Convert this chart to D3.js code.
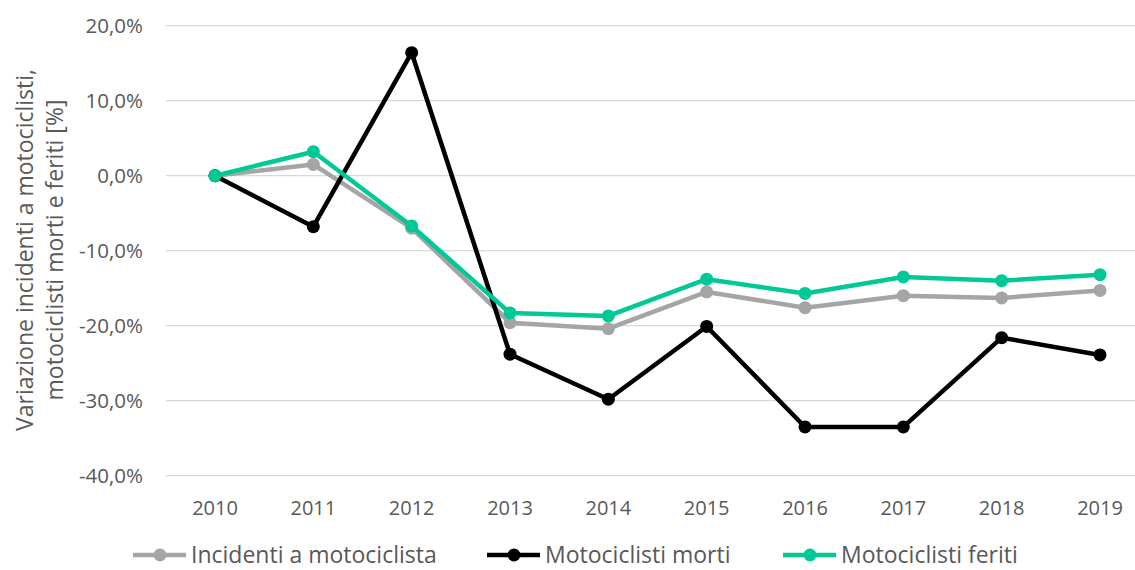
<!DOCTYPE html>
<html>
<head>
<meta charset="utf-8">
<script src="https://cdn.jsdelivr.net/npm/d3@7"></script>
<style>
  body { margin: 0; background: #fff; }
  text { font-family: "Open Sans", sans-serif; fill: #595959; }
</style>
</head>
<body>
<svg id="chart" width="1135" height="570"></svg>
<script>
// dati
var anni = ["2010","2011","2012","2013","2014","2015","2016","2017","2018","2019"];
var incidenti = [0, 1.5, -7.0, -19.6, -20.4, -15.5, -17.6, -16.0, -16.3, -15.3];
var morti = [0, -6.8, 16.4, -23.8, -29.8, -20.1, -33.5, -33.5, -21.6, -23.9];
var feriti = [0, 3.2, -6.7, -18.3, -18.7, -13.8, -15.7, -13.5, -14.0, -13.2];
var yTicks = [20, 10, 0, -10, -20, -30, -40];
var serieNomi = ["Incidenti a motociclista", "Motociclisti morti", "Motociclisti feriti"];
var colori = ["#A5A5A5", "#000000", "#00C896"];

var svg = d3.select("#chart");
var left = 166, right = 1135;

var x = d3.scalePoint().domain(anni).range([215, 1100]);
var y = d3.scaleLinear().domain([-40, 20]).range([475.7, 25.7]);

// griglia
svg.append("g").selectAll("line")
    .data(yTicks)
    .enter().append("line")
    .attr("x1", left).attr("x2", right)
    .attr("y1", function(d){ return y(d); })
    .attr("y2", function(d){ return y(d); })
    .attr("stroke", "#d9d9d9")
    .attr("stroke-width", 1.3);

// etichette asse y
var fmt = function(d){ return d.toFixed(1).replace(".", ",") + "%"; };
svg.append("g").selectAll("text")
    .data(yTicks)
    .enter().append("text")
    .attr("x", 143)
    .attr("y", function(d){ return y(d); })
    .attr("dy", "0.36em")
    .attr("text-anchor", "end")
    .attr("font-size", 20.5)
    .text(fmt);

// etichette asse x
svg.append("g").selectAll("text")
    .data(anni)
    .enter().append("text")
    .attr("x", function(d){ return x(d); })
    .attr("y", 515)
    .attr("text-anchor", "middle")
    .attr("font-size", 20)
    .text(function(d){ return d; });

// titolo asse y
var title = svg.append("text")
    .attr("transform", "translate(33,250) rotate(-90)")
    .attr("text-anchor", "middle")
    .attr("font-size", 23);
title.append("tspan").attr("x", 0).attr("y", 0).text("Variazione incidenti a motociclisti,");
title.append("tspan").attr("x", 0).attr("y", 30).text("motociclisti morti e feriti [%]");

// serie
var serie = [incidenti, morti, feriti];
var line = d3.line()
    .x(function(d, i){ return x(anni[i]); })
    .y(function(d){ return y(d); });

serie.forEach(function(s, k) {
    var g = svg.append("g");
    g.append("path")
        .datum(s)
        .attr("d", line)
        .attr("fill", "none")
        .attr("stroke", colori[k])
        .attr("stroke-width", 4.5)
        .attr("stroke-linejoin", "round");
    g.selectAll("circle")
        .data(s)
        .enter().append("circle")
        .attr("cx", function(d, i){ return x(anni[i]); })
        .attr("cy", function(d){ return y(d); })
        .attr("r", 6.5)
        .attr("fill", colori[k]);
});

// legenda
var legX = [133, 487, 783];
serieNomi.forEach(function(n, k) {
    var g = svg.append("g").attr("transform", "translate(" + legX[k] + ",555)");
    g.append("line").attr("x1", 0).attr("x2", 53).attr("stroke", colori[k]).attr("stroke-width", 4.5);
    g.append("circle").attr("cx", 27).attr("r", 6.5).attr("fill", colori[k]);
    g.append("text").attr("x", 58).attr("dy", "0.36em").attr("font-size", 23).text(n);
});
</script>
</body>
</html>
